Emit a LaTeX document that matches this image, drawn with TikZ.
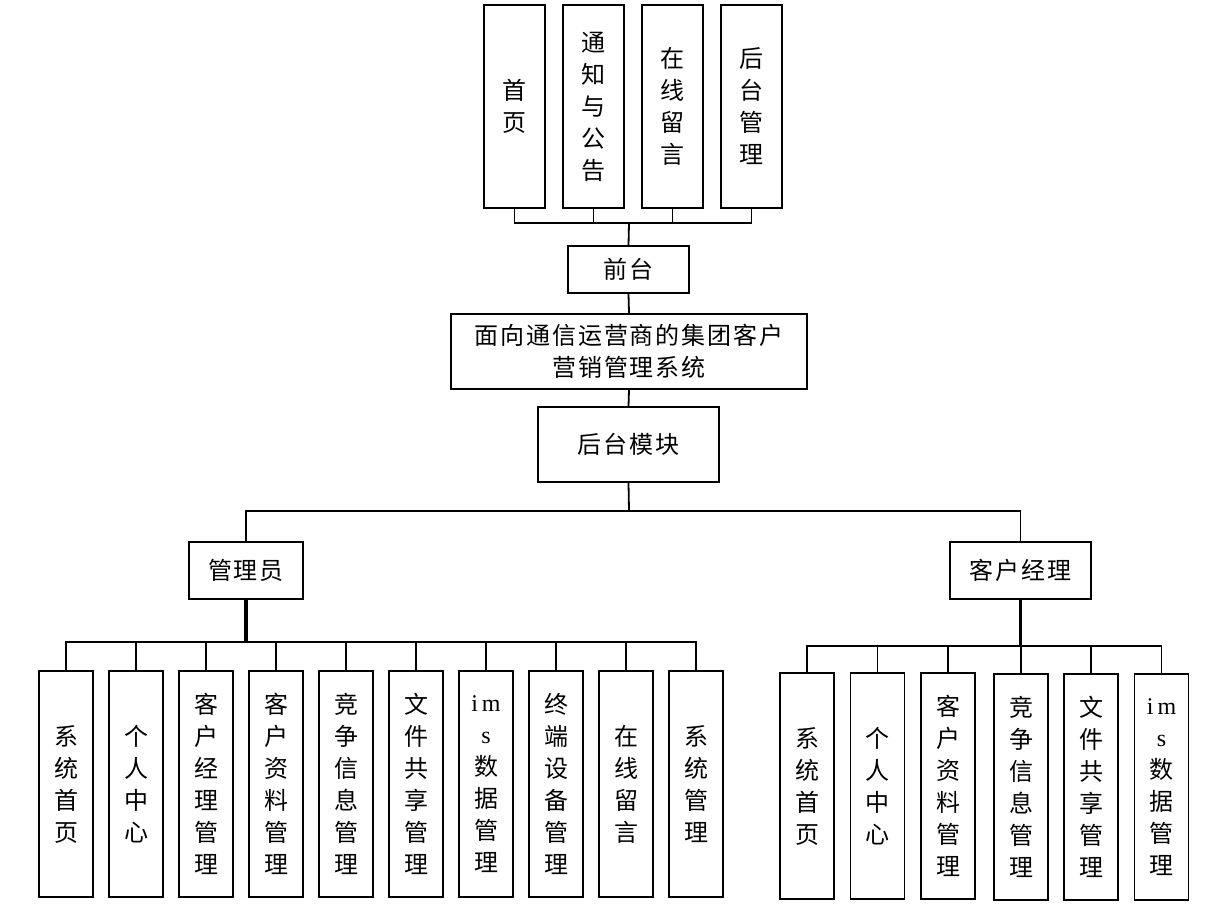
\documentclass[tikz,border=0pt]{standalone}
\usepackage{fontspec}
\setmainfont{Noto Sans CJK SC}
\newfontfamily\hcjk[LetterSpace=8]{Noto Sans CJK SC}
\newfontfamily\latinserif{Liberation Serif}
\begin{document}
\begin{tikzpicture}[x=1pt,y=-1pt,
  box/.style={draw, line width=1.8pt, inner sep=0pt, align=center,
    font=\fontsize{24}{32}\selectfont},
  hbox/.style={box, font=\fontsize{24}{32}\selectfont\hcjk},
  vtop/.style={box, minimum width=61pt, minimum height=203pt},
  vsub/.style={box, minimum width=54pt, minimum height=226pt},
  conn/.style={line width=1.8pt},
  stem/.style={line width=3.5pt}]
\useasboundingbox (0,0) rectangle (1215,913);
% top front-end boxes
\node[vtop] (t1) at (514.5,106.5) {首\\页};
\node[vtop] (t2) at (593.5,106.5) {通\\知\\与\\公\\告};
\node[vtop] (t3) at (672.5,106.5) {在\\线\\留\\言};
\node[vtop] (t4) at (751.5,106.5) {后\\台\\管\\理};
\coordinate (busT) at (629,223);
\node[hbox, minimum width=121pt, minimum height=47pt] (qt) at (628.5,269.5) {前台};
\node[hbox, minimum width=356pt, minimum height=75pt] (sys) at (629,351.5) {面向通信运营商的集团客户\\营销管理系统};
\node[hbox, minimum width=181pt, minimum height=75pt] (ht) at (628.5,444.5) {后台模块};
\coordinate (busM) at (629,511);
\node[hbox, minimum width=114pt, minimum height=57pt] (adm) at (246,570.5) {管理员};
\node[hbox, minimum width=141pt, minimum height=57pt] (mgr) at (1020.5,570.5) {客户经理};
\coordinate (busA) at (246,642);
\coordinate (busC) at (1020.5,646);
% admin children
\node[vsub] (a1) at (66,784) {系\\统\\首\\页};
\node[vsub] (a2) at (136,784) {个\\人\\中\\心};
\node[vsub] (a3) at (206,784) {客\\户\\经\\理\\管\\理};
\node[vsub] (a4) at (276,784) {客\\户\\资\\料\\管\\理};
\node[vsub] (a5) at (346,784) {竞\\争\\信\\息\\管\\理};
\node[vsub] (a6) at (416,784) {文\\件\\共\\享\\管\\理};
\node[vsub] (a7) at (486,784) {{\latinserif i\,m}\\{\latinserif s}\\数\\据\\管\\理};
\node[vsub] (a8) at (556,784) {终\\端\\设\\备\\管\\理};
\node[vsub] (a9) at (626,784) {在\\线\\留\\言};
\node[vsub] (a10) at (696,784) {系\\统\\管\\理};
% manager children
\node[vsub] (c1) at (807,786) {系\\统\\首\\页};
\node[vsub] (c2) at (877.5,786) {个\\人\\中\\心};
\node[vsub] (c3) at (948,786) {客\\户\\资\\料\\管\\理};
\node[vsub] (c4) at (1021,787) {竞\\争\\信\\息\\管\\理};
\node[vsub] (c5) at (1091,787) {文\\件\\共\\享\\管\\理};
\node[vsub] (c6) at (1161.5,787) {{\latinserif i\,m}\\{\latinserif s}\\数\\据\\管\\理};
% connectors
\foreach \n in {t1,t2,t3,t4} \draw[conn] (\n.south) |- (busT);
\draw[conn] (busT) -- (qt.north);
\draw[conn] (qt.south) -- (sys.north);
\draw[conn] (sys.south) -- (ht.north);
\draw[conn] (ht.south) -- (busM);
\draw[conn] (adm.north) |- (busM);
\draw[conn] (mgr.north) |- (busM);
\draw[stem] (adm.south) -- (busA);
\draw[stem] (mgr.south) -- (busC);
\foreach \n in {a1,a2,a3,a4,a5,a6,a7,a8,a9,a10} \draw[conn] (\n.north) |- (busA);
\foreach \n in {c1,c2,c3,c4,c5,c6} \draw[conn] (\n.north) |- (busC);
\end{tikzpicture}
\end{document}
